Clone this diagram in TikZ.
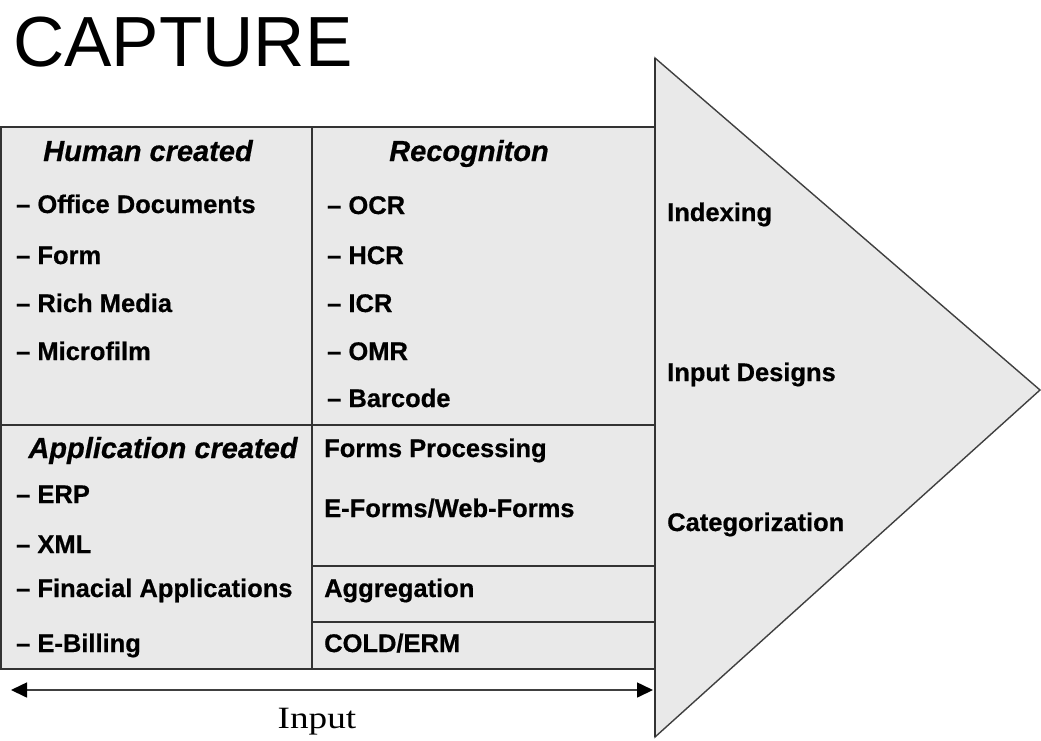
\documentclass[tikz,border=0pt]{standalone}
\usepackage{fontspec}
\setmainfont{Liberation Sans}[BoldFeatures={FakeBold=0.6},BoldItalicFeatures={FakeBold=0.6}]
\newfontfamily\serifinput{Liberation Serif}
\usetikzlibrary{arrows.meta}
\definecolor{boxfill}{gray}{0.915}
\definecolor{boxline}{gray}{0.2}
\tikzset{
  cell/.style={draw=boxline, line width=1.8pt, fill=boxfill},
  item/.style={anchor=base west, inner sep=0pt, font=\fontsize{25.5}{28}\selectfont\bfseries},
  head/.style={anchor=base, inner sep=0pt, font=\fontsize{29}{32}\selectfont\bfseries\itshape},
  tipbox/.style={},
}
\begin{document}
\begin{tikzpicture}[x=1pt,y=-1pt]
\useasboundingbox (0,0) rectangle (1041,740);
% triangle
\fill[boxfill, draw=black!75, line width=1.4pt] (655,58) -- (1040,390) -- (655,737) -- cycle;
% cells
\draw[cell] (1,127) rectangle (312,425);
\draw[cell] (312,127) rectangle (655,425);
\draw[cell] (1,425) rectangle (312,669);
\draw[cell] (312,425) rectangle (655,566);
\draw[cell] (312,566) rectangle (655,622);
\draw[cell] (312,622) rectangle (655,669);
\draw[draw=black!80, line width=1.4pt] (655,58) -- (655,737);
% title
\node[anchor=base west, inner sep=0pt, font=\fontsize{71}{80}\selectfont] (title) at (13,66) {CAPTURE};
% headers
\node[head] (hum) at (148,161) {Human created};
\node[head] (rec) at (469,161) {Recogniton};
\node[head] (app) at (163,458) {Application created};
% left top items
\node[item] (i1) at (16,213) {– Office Documents};
\node[item] (i2) at (16,264) {– Form};
\node[item] (i3) at (16,312) {– Rich Media};
\node[item] (i4) at (16,360) {– Microfilm};
% recognition
\node[item] (r1) at (327,214) {– OCR};
\node[item] (r2) at (327,264) {– HCR};
\node[item] (r3) at (327,312) {– ICR};
\node[item] (r4) at (327,360) {– OMR};
\node[item] (r5) at (327,407) {– Barcode};
% application items
\node[item] (a1) at (16,503) {– ERP};
\node[item] (a2) at (16,553) {– XML};
\node[item] (a3) at (16,597) {– Finacial Applications};
\node[item] (a4) at (16,652) {– E-Billing};
% right column
\node[item] (f1) at (324,457) {Forms Processing};
\node[item] (f2) at (324,517) {E-Forms/Web-Forms};
\node[item] (f3) at (324,597) {Aggregation};
\node[item] (f4) at (324,652) {COLD/ERM};
% triangle labels
\node[item] (t1) at (667,221) {Indexing};
\node[item] (t2) at (667,381) {Input Designs};
\node[item] (t3) at (667,531) {Categorization};
% input arrow
\coordinate (aL) at (11,690);
\coordinate (aR) at (653,690);
\draw[draw=black!75, line width=1.6pt, {Triangle[length=16pt,width=15pt,color=black]}-{Triangle[length=16pt,width=15pt,color=black]}] (aL) -- (aR);
\node[anchor=base, inner sep=0pt, font=\serifinput\fontsize{31}{34}\selectfont, xscale=1.2, transform shape] (inp) at (317,728) {Input};
\end{tikzpicture}
\end{document}
